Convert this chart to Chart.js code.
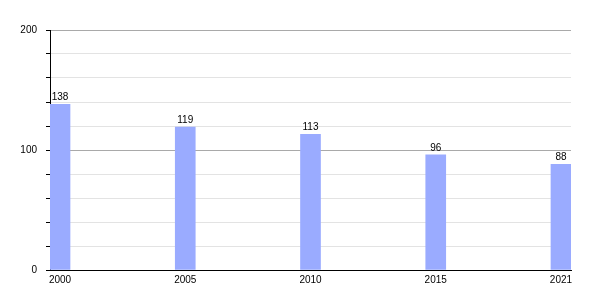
<!DOCTYPE html>
<html>
<head>
<meta charset="utf-8">
<script src="https://cdn.jsdelivr.net/npm/chart.js@4/dist/chart.umd.min.js"></script>
<style>
  html, body { margin: 0; padding: 0; background: #fff; }
  #wrap { width: 600px; height: 300px; }
</style>
</head>
<body>
<div id="wrap"><canvas id="popChart"></canvas></div>
<script>
// 数据
const years = ["2000", "2005", "2010", "2015", "2021"];
const population = [138, 119, 113, 96, 88];
const yLabels = [0, 100, 200];

// 柱顶数值标签
const valueLabels = {
    id: "valueLabels",
    afterDatasetsDraw(chart) {
        const ctx = chart.ctx;
        const meta = chart.getDatasetMeta(0);
        ctx.save();
        ctx.font = "10px 'Liberation Sans', Arial, sans-serif";
        ctx.fillStyle = "#000";
        ctx.textAlign = "center";
        ctx.textBaseline = "bottom";
        meta.data.forEach((bar, i) => {
            ctx.fillText(String(population[i]), bar.x, bar.y - 2);
        });
        ctx.restore();
    }
};

Chart.defaults.font.family = "'Liberation Sans', Arial, sans-serif";
Chart.defaults.font.size = 10;
Chart.defaults.color = "#000";

new Chart(document.getElementById("popChart"), {
    type: "bar",
    data: {
        datasets: [{
            data: population.map((v, i) => ({ x: i, y: v })),
            backgroundColor: "#9aabff",
            borderWidth: 0,
            barThickness: 20
        }]
    },
    options: {
        responsive: true,
        maintainAspectRatio: false,
        animation: false,
        layout: { padding: { top: 30, right: 29, left: 0, bottom: 0 } },
        plugins: {
            legend: { display: false },
            tooltip: { enabled: false }
        },
        scales: {
            x: {
                type: "linear",
                offset: false,
                min: -0.08,
                max: 4.08,
                afterBuildTicks: (scale) => {
                    scale.ticks = years.map((_, i) => ({ value: i }));
                },
                afterFit: (scale) => { scale.height = 30; },
                grid: { drawOnChartArea: false, drawTicks: false },
                border: { color: "#000", width: 1 },
                ticks: {
                    padding: 4,
                    autoSkip: false,
                    maxRotation: 0,
                    callback: (v) => years[v]
                }
            },
            y: {
                min: 0,
                max: 200,
                afterFit: (scale) => { scale.width = 50; },
                grid: {
                    color: (c) => (c.tick && c.tick.value % 100 === 0) ? "#a9a9a9" : "#e3e3e3",
                    tickColor: "#000",
                    tickLength: 4
                },
                border: { color: "#000", width: 1 },
                ticks: {
                    stepSize: 20,
                    autoSkip: false,
                    padding: 9,
                    callback: (v) => yLabels.includes(v) ? v : ""
                }
            }
        }
    },
    plugins: [valueLabels]
});
</script>
</body>
</html>
